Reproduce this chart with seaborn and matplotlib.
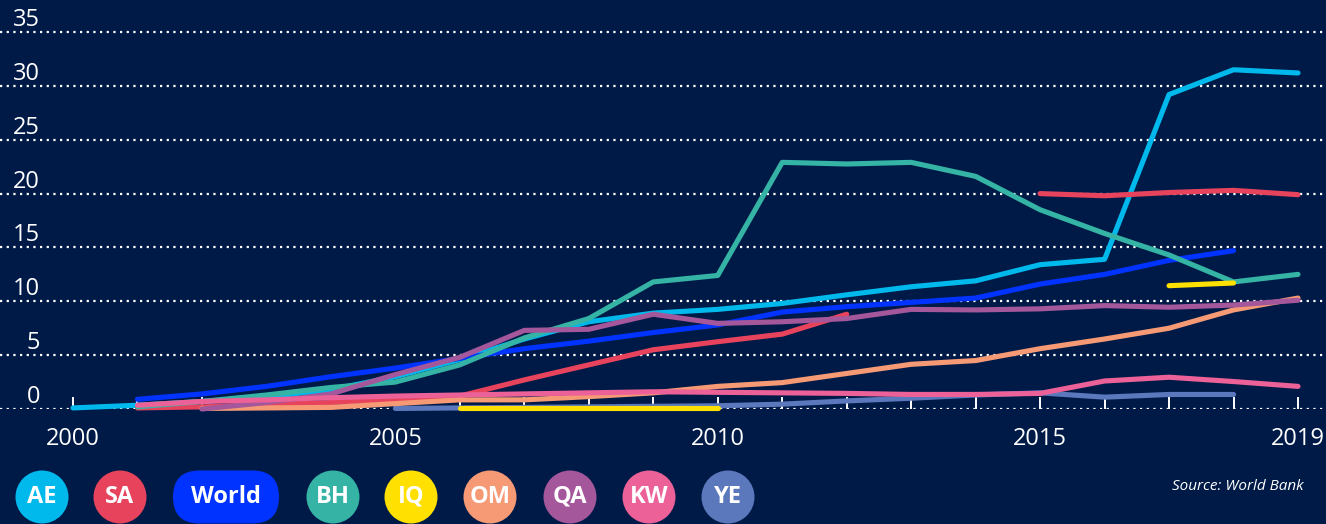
import pandas as pd
import matplotlib.pyplot as plt
import matplotlib.patches as mpatches
import seaborn as sns

# Internet users share data (World Bank)
years = list(range(2000, 2020))
ae = [0.1, 0.35, 0.7, 1.1, 1.8, 3.0, 4.6, 6.5, 8.1, 8.9, 9.25, 9.8, 10.6, 11.35, 11.9, 13.4, 13.9, 29.2, 31.5, 31.2]
sa = [None, 0.1, 0.2, 0.4, 0.6, 0.9, 1.2, 2.7, 4.1, 5.5, 6.25, 6.95, 8.8, None, None, 20.0, 19.8, 20.1, 20.3, 19.9]
world = [None, 0.9, 1.4, 2.1, 3.0, 3.8, 4.7, 5.6, 6.3, 7.1, 7.8, 9.0, 9.5, 9.9, 10.3, 11.6, 12.5, 13.8, 14.7, None]
bh = [None, 0.2, 0.7, 1.3, 2.0, 2.5, 4.1, 6.6, 8.4, 11.8, 12.4, 22.9, 22.75, 22.9, 21.6, 18.5, 16.3, 14.3, 11.8, 12.5]
iq = [None, None, None, None, None, None, 0.07, 0.07, 0.07, 0.07, 0.07, None, None, None, None, None, None, 11.45, 11.7, None]
om = [None, None, 0.05, 0.1, 0.15, 0.5, 0.85, 0.85, 1.15, 1.5, 2.1, 2.45, 3.3, 4.15, 4.5, 5.6, 6.5, 7.5, 9.2, 10.3]
qa = [None, None, 0.0, 0.6, 1.4, 3.2, 4.8, 7.3, 7.4, 8.8, 7.95, 8.1, 8.4, 9.25, 9.2, 9.3, 9.6, 9.45, 9.65, 10.1]
kw = [None, 0.35, 0.7, 0.85, 1.05, 1.2, 1.3, 1.4, 1.5, 1.6, 1.55, 1.5, 1.45, 1.35, 1.35, 1.45, 2.6, 2.95, 2.55, 2.1]
ye = [None, None, None, None, None, 0.05, 0.1, 0.15, 0.2, 0.25, 0.3, 0.45, 0.75, 1.0, 1.3, 1.5, 1.1, 1.35, 1.35, None]

names = ["AE", "SA", "World", "BH", "IQ", "OM", "QA", "KW", "YE"]
values = [ae, sa, world, bh, iq, om, qa, kw, ye]
colors = ["#00B9EC", "#E8435C", "#0033FF", "#35B3A4", "#FFE000", "#F59A75", "#A4579A", "#EC6198", "#5B78BC"]
x_labels = [2000, 2005, 2010, 2015, 2019]

# long-form table; a gap (None) starts a new unit so lines are not bridged
rows = []
for name, vals in zip(names, values):
    seg = 0
    gap = True
    for yr, v in zip(years, vals):
        if v is None:
            gap = True
            continue
        if gap:
            seg += 1
            gap = False
        rows.append({"country": name, "unit": f"{name}_{seg}", "year": yr, "value": v})
df = pd.DataFrame(rows)

bg = "#001A48"
sns.set_theme(style="dark")
plt.rcParams["font.family"] = ["Open Sans", "DejaVu Sans"]

fig = plt.figure(figsize=(13.26, 5.24), dpi=100, facecolor=bg)
ax = fig.add_axes([0, 1 - 409 / 524, 1, 409 / 524])
ax.set_facecolor(bg)

draw_order = ["YE", "AE", "SA", "World", "BH", "OM", "QA", "KW", "IQ"]
for name in draw_order:
    sub = df[df["country"] == name]
    sns.lineplot(data=sub, x="year", y="value", units="unit", estimator=None,
                 color=colors[names.index(name)], linewidth=3.7,
                 solid_capstyle="round", clip_on=False, ax=ax)

ax.set_xlim(2000 - 73 / 64.47, 2019 + 28 / 64.47)
ax.set_ylim(0, 409 / 10.77)
ax.set_xlabel("")
ax.set_ylabel("")

ax.set_yticks(range(0, 40, 5))
ax.grid(axis="y", color="white", linestyle=(0, (1, 2)), linewidth=1.6)
ax.grid(axis="x", visible=False)
ax.set_axisbelow(True)
ax.tick_params(axis="y", length=0, pad=-28.8, labelsize=17, labelcolor="white")
for lab in ax.get_yticklabels():
    lab.set_va("bottom")

ax.set_xticks(years)
ax.set_xticklabels([str(y) if y in x_labels else "" for y in years])
ax.tick_params(axis="x", direction="in", length=8.5, width=1.4, color="white",
               labelsize=17, labelcolor="white", pad=13, bottom=True)
for s in ax.spines.values():
    s.set_visible(False)

# pill legend
centers = [42, 120, 226, 333, 411, 490, 570, 649, 728]
r = 0.265
cy = (524 - 497) / 100
for name, col, cx in zip(names, colors, centers):
    cx = cx / 100
    if name == "World":
        half = (279 - 173) / 200 - r
        patch = mpatches.FancyBboxPatch((cx - half, cy), 2 * half, 0,
                                        boxstyle=f"round,pad={r}", fc=col, ec="none",
                                        transform=fig.dpi_scale_trans)
    else:
        patch = mpatches.Circle((cx, cy), r, fc=col, ec="none", transform=fig.dpi_scale_trans)
    fig.add_artist(patch)
    fig.text(cx, cy, name, transform=fig.dpi_scale_trans, ha="center", va="center",
             color="white", fontsize=17, fontweight="bold")

fig.text(1304 / 1326, 1 - 487 / 524, "Source: World Bank", ha="right", va="center",
         color="white", fontsize=11, style="italic")

fig.savefig("out.png", dpi=100, facecolor=bg)
